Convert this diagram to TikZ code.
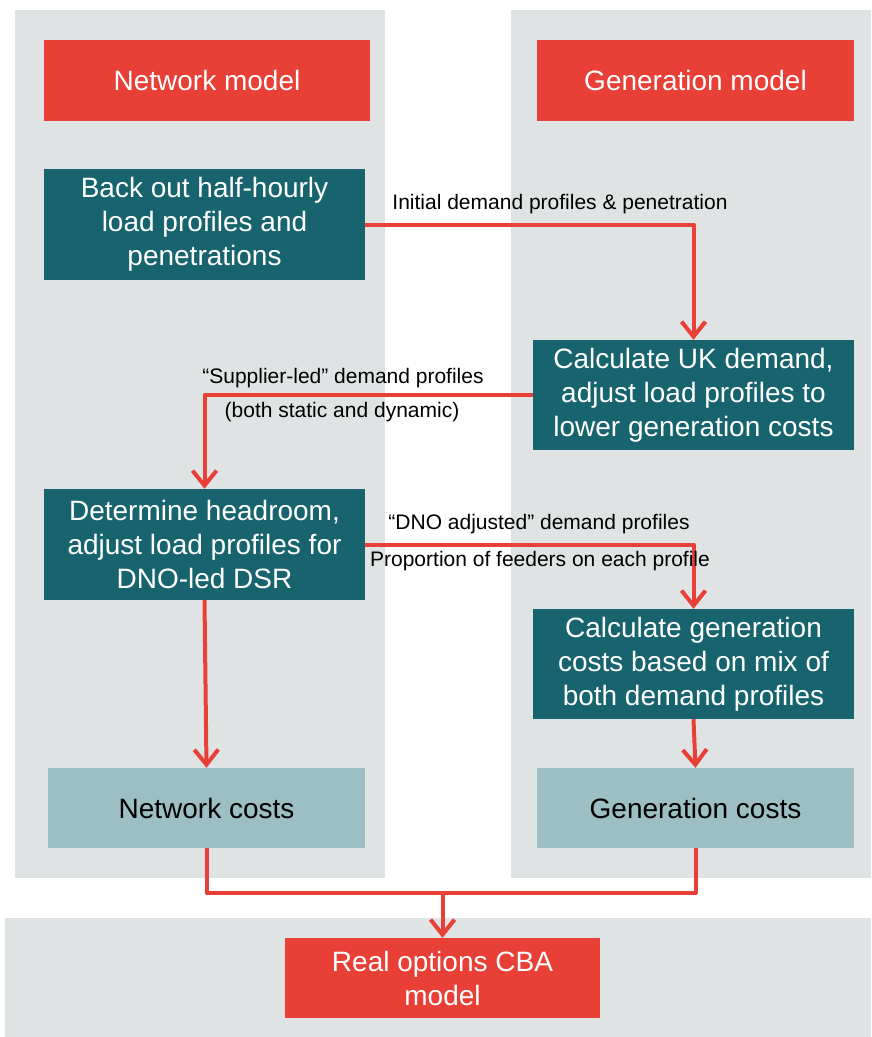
\documentclass[tikz,border=0pt]{standalone}
\usepackage{fontspec}
\setmainfont{Liberation Sans}
\usetikzlibrary{arrows.meta}
\definecolor{cbared}{HTML}{E84036}
\definecolor{cbateal}{HTML}{17646E}
\definecolor{cbalight}{HTML}{9BBFC2}
\definecolor{cbagrey}{HTML}{E0E3E4}
\begin{document}
\begin{tikzpicture}[x=1pt,y=-1pt,line join=round,>={Straight Barb[length=15pt,width=24pt]},
	model/.style={fill=cbared,text=white,inner sep=0pt,align=center,font=\fontsize{28}{34}\selectfont},
	stage/.style={fill=cbateal,text=white,inner sep=0pt,align=center,font=\fontsize{28}{34}\selectfont,minimum width=321pt,minimum height=111pt},
	cost/.style={fill=cbalight,text=black,inner sep=0pt,align=center,font=\fontsize{28}{34}\selectfont,minimum width=317pt,minimum height=80pt},
	flow/.style={draw=cbared,line width=4pt},
	lbl/.style={inner sep=0pt,font=\fontsize{21}{24}\selectfont}]
	\useasboundingbox (0,0) rectangle (871,1037);
	\fill[cbagrey] (15,10) rectangle (385,878);
	\fill[cbagrey] (511,10) rectangle (871,878);
	\fill[cbagrey] (5,918) rectangle (871,1037);
	\node[model,minimum width=326pt,minimum height=81pt] (netmodel) at (207,80.5) {Network model};
	\node[model,minimum width=317pt,minimum height=81pt] (genmodel) at (695.5,80.5) {Generation model};
	\node[stage] (backout) at (204.5,224.5) {Back out half-hourly\\load profiles and\\penetrations};
	\node[stage,minimum height=110pt] (calcuk) at (693.5,395) {Calculate UK demand,\\adjust load profiles to\\lower generation costs};
	\node[stage] (headroom) at (204.5,544.5) {Determine headroom,\\adjust load profiles for\\DNO-led DSR};
	\node[stage,minimum height=110pt] (calcgen) at (693.5,664) {Calculate generation\\costs based on mix of\\both demand profiles};
	\node[cost] (netcost) at (206.5,808) {Network costs};
	\node[cost] (gencost) at (695.5,808) {Generation costs};
	\node[model,minimum width=315pt,minimum height=80pt] (realopt) at (442.5,978) {Real options CBA\\model};
	\coordinate (merge) at (442.5,893);
	\draw[flow,->] (backout.east) -| (calcuk.north);
	\draw[flow,->] (calcuk.west) -| (headroom.north);
	\draw[flow,->] (headroom.east) -| (calcgen.north);
	\draw[flow,->] (headroom.south) -- (netcost.north);
	\draw[flow,->] (calcgen.south) -- (gencost.north);
	\draw[flow] (netcost.south) |- (merge) -| (gencost.south);
	\draw[flow,->] (merge) -- (realopt.north);
	\node[lbl] (initlbl) at (560,204) {Initial demand profiles \& penetration};
	\node[lbl] (suplbl) at (343,378) {“Supplier-led” demand profiles};
	\node[lbl] (bothlbl) at (342,412) {(both static and dynamic)};
	\node[lbl] (dnolbl) at (539,524) {“DNO adjusted” demand profiles};
	\node[lbl] (proplbl) at (540,561) {Proportion of feeders on each profile};
\end{tikzpicture}
\end{document}
